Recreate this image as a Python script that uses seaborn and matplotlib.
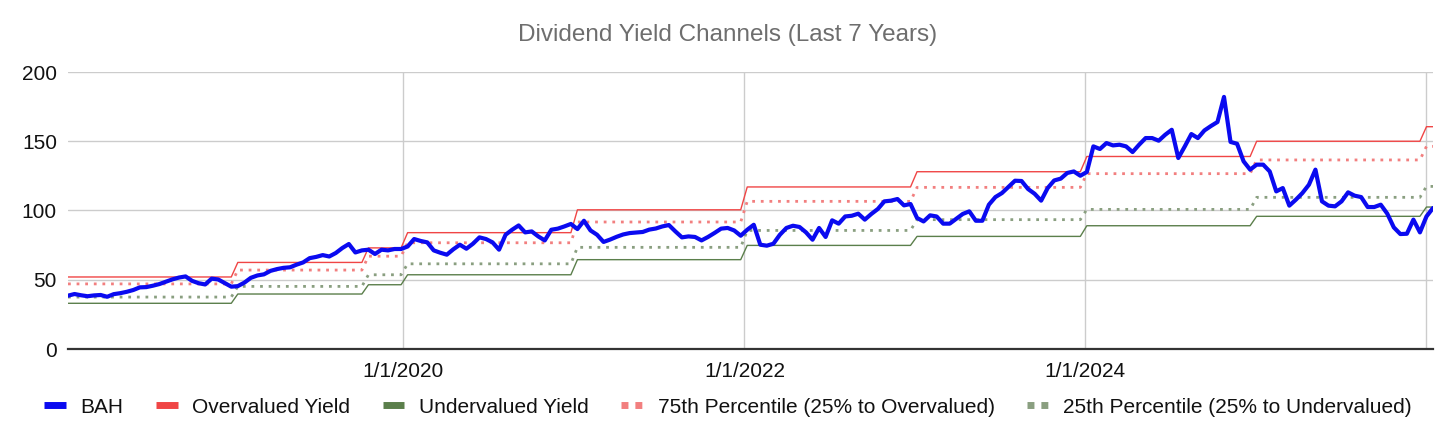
import numpy as np
import pandas as pd
import matplotlib
matplotlib.use("Agg")
import matplotlib.pyplot as plt
import seaborn as sns
from matplotlib.lines import Line2D

# データ（2週間ごと、2018-01-12 から）
start_date = "2018-01-12"
bah = [
    38.5, 39.7, 38.8, 38.1, 38.7, 39.0, 37.7, 39.6, 40.3, 41.3,
    42.6, 44.5, 44.7, 45.7, 46.9, 48.6, 50.3, 51.6, 52.4, 49.2,
    47.5, 46.6, 50.8, 50.2, 47.6, 45.0, 45.4, 47.9, 51.4, 53.1,
    53.9, 56.4, 57.7, 58.6, 59.0, 60.9, 62.5, 65.6, 66.5, 67.8, 66.8, 69.3,
    72.9, 75.8, 69.7, 71.2, 71.7, 68.6, 71.7, 71.2, 72.2,
    72.2, 74.0, 79.4, 78.0, 77.0, 71.2, 69.5, 68.1, 72.0, 75.3, 72.4, 76.0, 80.6,
    79.4, 77.0, 71.7, 82.5, 86.1, 89.2, 84.2, 84.9, 81.3, 78.4,
    86.1, 86.9, 88.5, 90.3, 86.6, 92.6, 85.6, 82.5, 77.3, 79.0,
    81.0, 82.7, 83.7, 84.1, 84.5, 86.2, 87.0, 88.5, 89.5, 84.9,
    80.6, 81.3, 80.9, 78.4, 80.9, 83.8, 86.9, 87.4, 85.6, 81.8,
    86.1, 89.7, 75.3, 74.6, 76.0, 82.5, 87.4, 89.0, 88.1, 84.2,
    78.9, 87.4, 80.9, 92.9, 90.5, 95.7, 96.2, 97.7, 93.4, 97.5,
    101.1, 106.6, 107.1, 108.3, 103.7, 104.7, 94.6,
    92.1, 96.5, 95.7, 90.5, 90.5, 94.0, 97.5, 99.4, 92.6, 92.6,
    104.2, 109.7, 112.6, 117.0, 121.5, 121.3, 115.5, 112.1, 107.1, 116.2,
    121.7, 123.0, 127.1, 128.2, 125.1, 127.8, 146.3,
    144.4, 148.7, 147.0, 147.5, 146.3, 142.2, 147.5, 152.3, 152.3, 150.4,
    154.7, 158.3, 137.9, 146.3, 155.2, 152.3, 157.8, 161.0, 163.9, 182.0,
    149.5, 148.2, 135.5, 129.5, 133.1, 133.1, 128.2, 113.8, 116.2, 103.5,
    107.8, 112.6, 118.6, 129.5, 106.6, 103.5, 103.0, 106.6, 113.1, 110.7,
    109.7, 102.5, 102.5, 104.2, 97.7, 87.8, 83.0, 83.2, 93.4, 84.2,
    95.7, 101.8,
]

# チャネル水準（配当変更日ごと）
channel_changes = ["2019-01-01", "2019-10-10", "2020-01-01", "2021-01-01",
                   "2022-01-01", "2023-01-01", "2024-01-01", "2025-01-01",
                   "2026-01-01"]
overvalued = [52.0, 62.5, 73.0, 84.0, 100.5, 117.0, 128.0, 139.0, 150.0, 160.5]
pct75 = [47.0, 57.0, 67.0, 76.7, 91.7, 106.6, 116.7, 126.6, 136.5, 146.3]
pct25 = [37.5, 45.2, 53.6, 61.5, 73.4, 85.6, 93.4, 100.8, 109.5, 117.4]
undervalued = [33.0, 39.7, 46.4, 53.6, 64.5, 74.8, 81.3, 89.0, 95.8, 102.5]

tick_dates = ["2020-01-01", "2022-01-01", "2024-01-01", "2026-01-01"]
tick_labels = ["1/1/2020", "1/1/2022", "1/1/2024", ""]
y_ticks = [0, 50, 100, 150, 200]

labels = ["BAH", "Overvalued Yield", "Undervalued Yield",
          "75th Percentile (25% to Overvalued)", "25th Percentile (25% to Undervalued)"]
colors = ["#0a0af0", "#f04545", "#5b7f4b", "#f27f7f", "#8a9f80"]

# DataFrame 作成
dates = pd.date_range(start_date, periods=len(bah), freq="14D")
seg = np.searchsorted(pd.to_datetime(channel_changes).values, dates.values, side="right")
df = pd.DataFrame({
    "date": dates,
    labels[0]: bah,
    labels[1]: np.array(overvalued)[seg],
    labels[2]: np.array(undervalued)[seg],
    labels[3]: np.array(pct75)[seg],
    labels[4]: np.array(pct25)[seg],
})

sns.set_theme(style="white")
plt.rcParams["font.family"] = ["Liberation Sans", "DejaVu Sans"]

fig, ax = plt.subplots(figsize=(14.56, 4.4), dpi=100)
fig.subplots_adjust(left=68 / 1456, right=1433 / 1456, top=1 - 72 / 440, bottom=1 - 349 / 440)

dot = (0, (1, 2.1))
sns.lineplot(data=df, x="date", y=labels[1], color=colors[1], linewidth=1.0, ax=ax)
sns.lineplot(data=df, x="date", y=labels[2], color=colors[2], linewidth=1.0, ax=ax)
sns.lineplot(data=df, x="date", y=labels[3], color=colors[3], linewidth=2.0, linestyle=dot, ax=ax)
sns.lineplot(data=df, x="date", y=labels[4], color=colors[4], linewidth=2.0, linestyle=dot, ax=ax)
sns.lineplot(data=df, x="date", y=labels[0], color=colors[0], linewidth=3.0, ax=ax, zorder=5)

ax.set_xlim(dates[0], dates[-1])
ax.set_ylim(0, 200)
ax.set_yticks(y_ticks)
ax.set_xticks(pd.to_datetime(tick_dates))
ax.set_xticklabels(tick_labels)
ax.set_xlabel("")
ax.set_ylabel("")
ax.grid(True, color="#cccccc", linewidth=1.0)
ax.set_axisbelow(True)
for side in ["top", "right", "left"]:
    ax.spines[side].set_visible(False)
ax.spines["bottom"].set_color("#333333")
ax.spines["bottom"].set_linewidth(1.6)
ax.tick_params(length=0, labelsize=15, labelcolor="#111111")
ax.tick_params(axis="x", pad=9)
ax.tick_params(axis="y", pad=8)

fig.text(0.5, 1 - 35 / 440, "Dividend Yield Channels (Last 7 Years)",
         ha="center", va="center", fontsize=17.5, color="#6e6e6e")

handles = [
    Line2D([], [], color=colors[0], lw=5, solid_capstyle="butt"),
    Line2D([], [], color=colors[1], lw=5, solid_capstyle="butt"),
    Line2D([], [], color=colors[2], lw=5, solid_capstyle="butt"),
    Line2D([], [], color=colors[3], lw=5, linestyle=(0, (1, 1)), dash_capstyle="butt"),
    Line2D([], [], color=colors[4], lw=5, linestyle=(0, (1, 1)), dash_capstyle="butt"),
]
leg = fig.legend(handles, labels, loc="center", bbox_to_anchor=(0.5, 1 - 407 / 440),
                 ncol=5, frameon=False, fontsize=15, handlelength=1.05,
                 handletextpad=0.7, columnspacing=1.55)
for t in leg.get_texts():
    t.set_color("#111111")

fig.savefig("out.png", dpi=100)
